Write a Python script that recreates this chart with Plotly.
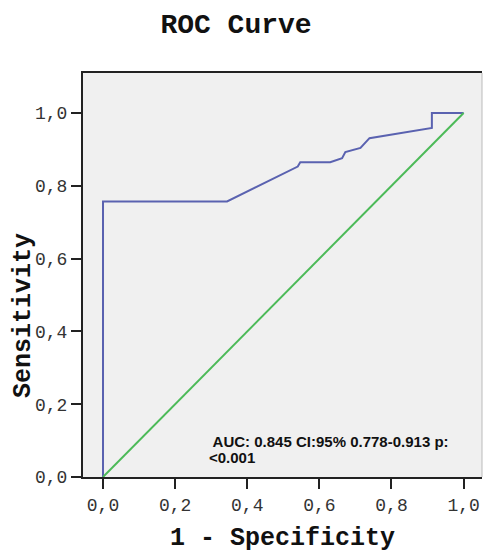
import plotly.graph_objects as go

# ROC curve points (1 - specificity, sensitivity)
fpr = [0.0, 0.0, 0.344, 0.540, 0.547, 0.630, 0.663, 0.672, 0.714, 0.739, 0.912, 0.912, 1.0]
tpr = [0.0, 0.757, 0.757, 0.853, 0.865, 0.865, 0.876, 0.893, 0.904, 0.931, 0.959, 1.0, 1.0]
ref_x = [0.0, 1.0]
ref_y = [0.0, 1.0]
tick_vals = [0.0, 0.2, 0.4, 0.6, 0.8, 1.0]
title_text = "ROC Curve"
x_title = "1 - Specificity"
y_title = "Sensitivity"
note_line1 = " AUC: 0.845 CI:95% 0.778-0.913 p:"
note_line2 = "<0.001"

mono = "Liberation Mono, Courier New, monospace"
sans = "Liberation Sans, Arial, sans-serif"

fig = go.Figure()
fig.add_trace(go.Scatter(x=fpr, y=tpr, mode="lines",
                         line=dict(color="#5a62b0", width=2), hoverinfo="skip"))
fig.add_trace(go.Scatter(x=ref_x, y=ref_y, mode="lines",
                         line=dict(color="#4cba58", width=2), hoverinfo="skip"))

axis_common = dict(
    showgrid=False, zeroline=False, showline=True, linecolor="#222222", linewidth=2,
    ticks="outside", ticklen=10, tickwidth=2, tickcolor="#222222",
    tickvals=tick_vals, tickformat=".1f", automargin=False,
    tickfont=dict(family=mono, size=18, color="#333333"),
)

fig.update_layout(
    width=484, height=551,
    margin=dict(l=83, r=2, t=73, b=74, autoexpand=False),
    paper_bgcolor="white", plot_bgcolor="#f0f0f0",
    separators=", ",
    showlegend=False,
    title=dict(text="<b>" + title_text + "</b>", x=236/484, xanchor="center",
               y=1 - 23/551, yanchor="middle",
               font=dict(family=mono, size=28, color="#111111")),
    xaxis=dict(range=[-0.0555, 1.051], mirror=True, **axis_common),
    yaxis=dict(range=[0, 1.110], mirror=False, **axis_common),
)

fig.add_shape(type="line", xref="paper", yref="paper", x0=1, x1=1, y0=0, y1=1,
              line=dict(color="#bbbbbb", width=1))

# annotation lines (pixel centres 441.7 and 456.7 -> data y)
fig.add_annotation(text="<b>" + note_line1 + "</b>",
                   x=0.2895, y=(476.7 - 441.7) / 363.4, xref="x", yref="y",
                   xanchor="left", yanchor="middle", align="left", showarrow=False,
                   font=dict(family=sans, size=15, color="#111111"))
fig.add_annotation(text="<b>" + note_line2.replace("<", "&lt;") + "</b>",
                   x=0.2895, y=(476.7 - 457) / 363.4, xref="x", yref="y",
                   xanchor="left", yanchor="middle", align="left", showarrow=False,
                   font=dict(family=sans, size=15, color="#111111"))
fig.add_annotation(text="<b>" + x_title + "</b>", xref="paper", yref="paper",
                   x=(282.5 - 83) / 399, y=-(538 - 476.7) / 403.4,
                   xanchor="center", yanchor="middle", showarrow=False,
                   font=dict(family=mono, size=25, color="#111111"))
fig.add_annotation(text="<b>" + y_title + "</b>", xref="paper", yref="paper",
                   x=-(83 - 23) / 399, y=(476.7 - 316) / 403.4, textangle=-90,
                   xanchor="center", yanchor="middle", showarrow=False,
                   font=dict(family=mono, size=25, color="#111111"))

fig.write_html("out.html", config={"displayModeBar": False},
               post_script="document.body.style.margin='0';document.body.style.overflow='hidden';")
